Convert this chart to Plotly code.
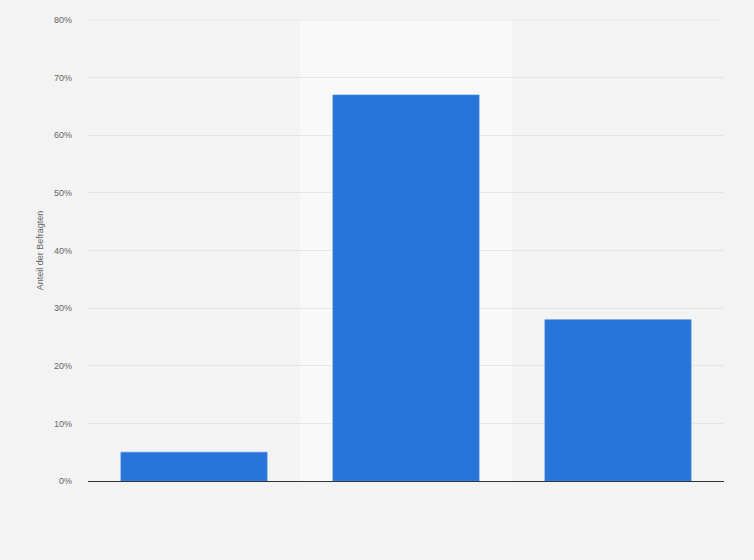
import plotly.graph_objects as go

categories = ["Kategorie 1", "Kategorie 2", "Kategorie 3"]
values = [5, 67, 28]
y_ticks = [0, 10, 20, 30, 40, 50, 60, 70, 80]
y_tick_labels = [f"{v}%" for v in y_ticks]

fig = go.Figure()
fig.add_trace(go.Bar(
    x=categories,
    y=values,
    marker=dict(color="#2775db", line=dict(color="#4a8ce3", width=0.6)),
    hovertemplate="%{y}%<extra></extra>",
))

# lighter band behind the middle category
fig.add_shape(
    type="rect", xref="x", yref="paper",
    x0=0.5, x1=1.5, y0=0, y1=1,
    fillcolor="#f9f9f9", line=dict(width=0), layer="below",
)
# top gridline (plotly drops the one on the range edge)
fig.add_shape(
    type="line", xref="paper", yref="y",
    x0=0, x1=1, y0=y_ticks[-1], y1=y_ticks[-1],
    line=dict(color="#d4d4d4", width=1, dash="1px,1px"), layer="below",
)

fig.update_layout(
    width=754,
    height=560,
    paper_bgcolor="#f3f3f3",
    plot_bgcolor="#f3f3f3",
    margin=dict(l=88, r=30, t=20, b=79),
    bargap=0.31,
    showlegend=False,
    font=dict(family="Arial, Liberation Sans, sans-serif", color="#666666", size=9),
    xaxis=dict(
        showticklabels=False,
        showgrid=False,
        showline=True,
        linecolor="#333333",
        linewidth=1.2,
        ticks="",
        zeroline=False,
    ),
    yaxis=dict(
        range=[0, 80],
        tickvals=y_ticks,
        ticktext=y_tick_labels,
        showgrid=True,
        gridcolor="#d4d4d4",
        griddash="1px,1px",
        gridwidth=1,
        zeroline=False,
        ticks="",
        ticklabelstandoff=15,
        tickfont=dict(size=9, color="#666666"),
        title=dict(text="Anteil der Befragten", font=dict(size=9, color="#666666"), standoff=8),
    ),
)

fig.write_html(
    "out.html",
    config={"displayModeBar": False},
    post_script="document.body.style.margin='0';",
)
